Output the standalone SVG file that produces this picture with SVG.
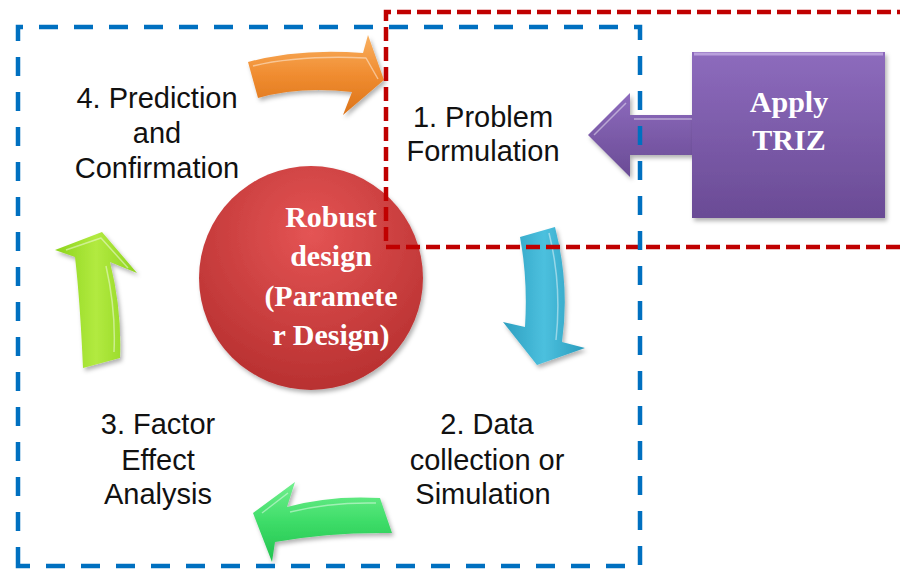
<svg xmlns="http://www.w3.org/2000/svg" width="900" height="569" viewBox="0 0 900 569">
<style>
.lbl{font-family:"Liberation Sans",Arial,sans-serif;font-size:29px;fill:#111;text-anchor:middle}
.bold{font-family:"Liberation Serif","Times New Roman",serif;font-weight:bold;font-size:30px;fill:#fff;text-anchor:middle}
.arrow{filter:url(#sh)}
.hl{fill:none;stroke:#fff;stroke-opacity:0.45;stroke-width:1.5;stroke-linejoin:round}
</style>
<defs>
<filter id="sh" x="-20%" y="-20%" width="150%" height="150%">
<feDropShadow dx="2" dy="3" stdDeviation="2" flood-color="#000" flood-opacity="0.3"/>
</filter>
<radialGradient id="gRed" cx="0.5" cy="0.3" r="0.75">
<stop offset="0" stop-color="#e45454"/>
<stop offset="1" stop-color="#b52e2e"/>
</radialGradient>
<linearGradient id="gPur" x1="0" y1="0" x2="0" y2="1">
<stop offset="0" stop-color="#8d6bbd"/>
<stop offset="1" stop-color="#6a4b95"/>
</linearGradient>
<linearGradient id="gOr" x1="0" y1="0" x2="0" y2="1">
<stop offset="0" stop-color="#f9b060"/>
<stop offset="0.5" stop-color="#f08c30"/>
<stop offset="1" stop-color="#dc741a"/>
</linearGradient>
<linearGradient id="gCy" x1="0" y1="0" x2="1" y2="0">
<stop offset="0" stop-color="#2d9fc0"/>
<stop offset="0.5" stop-color="#4cc0de"/>
<stop offset="1" stop-color="#2a9cbd"/>
</linearGradient>
<linearGradient id="gGr" x1="0" y1="0" x2="0" y2="1">
<stop offset="0" stop-color="#72f08e"/>
<stop offset="0.5" stop-color="#3ddc68"/>
<stop offset="1" stop-color="#22c24e"/>
</linearGradient>
<linearGradient id="gLi" x1="0" y1="0" x2="1" y2="0">
<stop offset="0" stop-color="#8cd41c"/>
<stop offset="0.5" stop-color="#b2ea40"/>
<stop offset="1" stop-color="#8fd420"/>
</linearGradient>
</defs>

<g id="center">
<circle cx="311" cy="278" r="112" fill="url(#gRed)" filter="url(#sh)"/>
<text class="bold" x="331" y="227">Robust</text>
<text class="bold" x="331" y="266">design</text>
<text class="bold" x="331" y="306">(Paramete</text>
<text class="bold" x="331" y="345">r Design)</text>
</g>

<g id="connectors">
<g id="arrow-orange" class="arrow">
<path d="M248,62 Q300,48 363,53 L368,35 L384,80 L343,115 L352,92 Q300,86 258,98 Z" fill="url(#gOr)"/>
<path class="hl" d="M253,66 Q300,55 366,58 L378,79"/>
</g>
<g id="arrow-cyan" class="arrow">
<path d="M520,237 L555,227 Q570,285 562,342 L585,348 L537,365 L503,322 L525,327 Q528,280 520,237 Z" fill="url(#gCy)"/>
<path class="hl" d="M549,233 Q562,285 556,340"/>
</g>
<g id="arrow-green" class="arrow">
<path d="M253,513 L295,482 L287,507 Q330,495 380,498 L392,533 Q330,532 275,542 L272,562 Z" fill="url(#gGr)"/>
<path class="hl" d="M262,513 L288,493 M290,512 Q330,502 376,503"/>
</g>
<g id="arrow-lime" class="arrow">
<path d="M102,232 L137,273 L110,262 Q122,310 120,358 L83,368 Q80,300 75,257 L55,250 Z" fill="url(#gLi)"/>
<path class="hl" d="M66,250 L101,238 L128,268 M106,266 Q116,310 114,352"/>
</g>
<g id="arrow-purple" class="arrow">
<path d="M588,135 L630,93 L630,115 L703,115 L703,155 L630,155 L630,177 Z" fill="url(#gPur)"/>
<path class="hl" d="M594,135 L626,103 M634,119 L700,119"/>
</g>
</g>

<g id="triz">
<rect x="692" y="52" width="193" height="166" fill="url(#gPur)" filter="url(#sh)"/>
<path d="M694,54 L883,54" stroke="#b9a0dc" stroke-width="3"/>
<text class="bold" x="789" y="112">Apply</text>
<text class="bold" x="789" y="150">TRIZ</text>
</g>

<g id="step1">
<text class="lbl" x="483" y="127">1. Problem</text>
<text class="lbl" x="483" y="161">Formulation</text>
</g>
<g id="step2">
<text class="lbl" x="487" y="434">2. Data</text>
<text class="lbl" x="487" y="470">collection or</text>
<text class="lbl" x="483" y="504">Simulation</text>
</g>
<g id="step3">
<text class="lbl" x="158" y="434">3. Factor</text>
<text class="lbl" x="158" y="470">Effect</text>
<text class="lbl" x="158" y="504">Analysis</text>
</g>
<g id="step4">
<text class="lbl" x="157" y="108">4. Prediction</text>
<text class="lbl" x="157" y="143">and</text>
<text class="lbl" x="157" y="178">Confirmation</text>
</g>

<g id="frames">
<path d="M900,247 H386 V12 H900" fill="none" stroke="#c00000" stroke-width="4.5" stroke-dasharray="14 6"/>
<path d="M18,566 V27 H640 V566 Z" fill="none" stroke="#0070c0" stroke-width="4.5" stroke-dasharray="19 16"/>
</g>
</svg>
